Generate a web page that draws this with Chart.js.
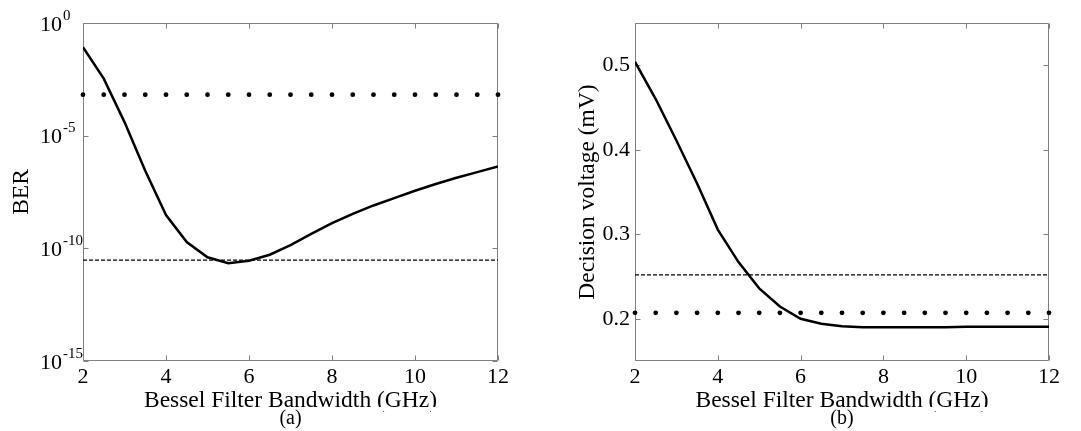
<!DOCTYPE html>
<html>
<head>
<meta charset="utf-8">
<script src="https://cdn.jsdelivr.net/npm/chart.js@4/dist/chart.umd.min.js"></script>
<style>
  html, body { margin: 0; padding: 0; background: #fff; }
  #wrap { position: relative; width: 1081px; height: 431px; }
  canvas { position: absolute; top: 0; }
</style>
</head>
<body>
<div id="wrap">
  <canvas id="berChart" width="540" height="431" style="left:0"></canvas>
  <canvas id="voltChart" width="541" height="431" style="left:540px"></canvas>
</div>
<script>
const SERIF = "'Liberation Serif', 'Times New Roman', serif";

// bandwidth sample points (GHz)
const bandwidth = [2, 2.5, 3, 3.5, 4, 4.5, 5, 5.5, 6, 6.5, 7, 7.5, 8, 8.5, 9, 9.5, 10, 10.5, 11, 11.5, 12];

// (a) BER vs bandwidth
const berValues = [8.5e-2, 3.4e-3, 4e-5, 2.8e-7, 3e-9, 1.9e-10, 4e-11, 2.2e-11, 2.8e-11, 5.2e-11, 1.4e-10,
  4.4e-10, 1.3e-9, 3.4e-9, 8e-9, 1.7e-8, 3.6e-8, 7.2e-8, 1.35e-7, 2.4e-7, 4.3e-7];
const berDotted = 6.6e-4;
const berDashed = 3e-11;
const berTicks = [1e-15, 1e-10, 1e-5, 1];

// (b) decision voltage vs bandwidth
const voltValues = [0.504, 0.46, 0.411, 0.36, 0.3055, 0.267, 0.236, 0.2145, 0.2, 0.194, 0.191, 0.19, 0.19,
  0.19, 0.19, 0.19, 0.1905, 0.1905, 0.1905, 0.1905, 0.1905];
const voltDotted = 0.207;
const voltDashed = 0.252;
const voltTicks = [0.2, 0.3, 0.4, 0.5];

const xTicks = [2, 4, 6, 8, 10, 12];

Chart.defaults.font.family = SERIF;
Chart.defaults.color = '#000';

// box with inward tick marks, matlab style
const framePlugin = {
  id: 'frame',
  beforeDatasetsDraw(chart) {
    const {ctx, chartArea: a, scales: {x, y}} = chart;
    const L = Math.round(a.left) + 0.5, R = Math.round(a.right) - 0.5;
    const T = Math.round(a.top) + 0.5, B = Math.round(a.bottom) - 0.5;
    ctx.save();
    ctx.strokeStyle = '#808080';
    ctx.lineWidth = 1;
    ctx.beginPath();
    ctx.rect(L, T, R - L, B - T);
    x.ticks.forEach(t => {
      const px = Math.round(x.getPixelForValue(t.value)) + 0.5;
      ctx.moveTo(px, B); ctx.lineTo(px, B - 5);
      ctx.moveTo(px, T); ctx.lineTo(px, T + 5);
    });
    y.ticks.forEach(t => {
      const py = Math.round(y.getPixelForValue(t.value)) + 0.5;
      ctx.moveTo(L, py); ctx.lineTo(L + 5, py);
      ctx.moveTo(R, py); ctx.lineTo(R - 5, py);
    });
    ctx.stroke();
    ctx.restore();
  }
};

// clipped axis title look + (a)/(b) caption
const captionPlugin = {
  id: 'caption',
  afterDraw(chart, args, opts) {
    const {ctx, chartArea: a} = chart;
    const cx = (a.left + a.right) / 2;
    ctx.save();
    ctx.fillStyle = '#fff';
    ctx.fillRect(cx - 160, opts.cut, 320, 4);
    ctx.fillStyle = '#000';
    ctx.font = '20px ' + SERIF;
    ctx.textAlign = 'center';
    ctx.textBaseline = 'middle';
    ctx.fillText(opts.text, cx, opts.y);
    ctx.restore();
  }
};

// 10^n labels for the log axis
const powerLabels = {
  id: 'powerLabels',
  afterDraw(chart) {
    const {ctx} = chart;
    const y = chart.scales.y;
    ctx.save();
    ctx.fillStyle = '#000';
    y.ticks.forEach(t => {
      const py = y.getPixelForValue(t.value);
      ctx.font = '22px ' + SERIF;
      ctx.textAlign = 'right';
      ctx.textBaseline = 'alphabetic';
      ctx.fillText('10', 62, py + 7.5);
      ctx.font = '15px ' + SERIF;
      ctx.textAlign = 'left';
      ctx.fillText(String(Math.round(Math.log10(t.value))), 63, py - 3.5);
    });
    ctx.restore();
  }
};

function xScale() {
  return {
    type: 'linear',
    min: 2,
    max: 12,
    afterBuildTicks: s => { s.ticks = xTicks.map(v => ({value: v})); },
    afterFit: s => { s.height = 70; },
    grid: {display: false, drawTicks: false},
    border: {display: false},
    ticks: {font: {size: 22}, padding: 3, maxRotation: 0},
    title: {
      display: true,
      text: 'Bessel Filter Bandwidth (GHz)',
      font: {size: 23.5},
      padding: {top: 0, bottom: 16}
    }
  };
}

function curveSets(values, dotted, dashed) {
  return [
    {
      data: bandwidth.map((x, i) => ({x, y: values[i]})),
      borderColor: '#000',
      borderWidth: 2.5,
      pointRadius: 0,
      tension: 0
    },
    {
      data: bandwidth.map(x => ({x, y: dotted})),
      showLine: false,
      pointRadius: 2.4,
      pointBorderWidth: 0,
      pointBackgroundColor: '#000',
      clip: false
    },
    {
      data: [{x: 2, y: dashed}, {x: 12, y: dashed}],
      borderColor: '#000',
      borderWidth: 1.3,
      borderDash: [4, 2],
      pointRadius: 0
    }
  ];
}

new Chart(document.getElementById('berChart'), {
  type: 'line',
  data: {datasets: curveSets(berValues, berDotted, berDashed)},
  options: {
    responsive: false,
    devicePixelRatio: 1,
    animation: false,
    layout: {padding: {top: 23, right: 42, left: 0, bottom: 0}},
    plugins: {
      legend: {display: false},
      tooltip: {enabled: false},
      caption: {text: '(a)', y: 419, cut: 407}
    },
    scales: {
      x: xScale(),
      y: {
        type: 'logarithmic',
        min: 1e-15,
        max: 1,
        afterBuildTicks: s => { s.ticks = berTicks.map(v => ({value: v})); },
        afterFit: s => { s.width = 83; },
        grid: {display: false, drawTicks: false},
        border: {display: false},
        ticks: {display: false},
        title: {display: true, text: 'BER', font: {size: 23.5}, padding: {top: 8, bottom: 0}}
      }
    }
  },
  plugins: [framePlugin, powerLabels, captionPlugin]
});

new Chart(document.getElementById('voltChart'), {
  type: 'line',
  data: {datasets: curveSets(voltValues, voltDotted, voltDashed)},
  options: {
    responsive: false,
    devicePixelRatio: 1,
    animation: false,
    layout: {padding: {top: 23, right: 32, left: 0, bottom: 0}},
    plugins: {
      legend: {display: false},
      tooltip: {enabled: false},
      caption: {text: '(b)', y: 419, cut: 407}
    },
    scales: {
      x: xScale(),
      y: {
        type: 'linear',
        min: 0.15,
        max: 0.55,
        afterBuildTicks: s => { s.ticks = voltTicks.map(v => ({value: v})); },
        afterFit: s => { s.width = 95; },
        grid: {display: false, drawTicks: false},
        border: {display: false},
        ticks: {font: {size: 22}, padding: 5, callback: v => v.toFixed(1)},
        title: {display: true, text: 'Decision voltage (mV)', font: {size: 23.5}, padding: {top: 34, bottom: 0}}
      }
    }
  },
  plugins: [framePlugin, captionPlugin]
});
</script>
</body>
</html>
